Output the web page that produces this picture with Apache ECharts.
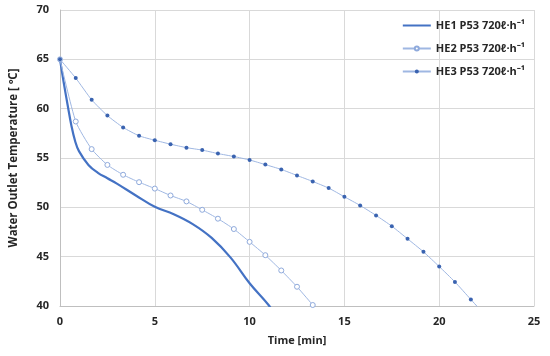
<!DOCTYPE html>
<html><head><meta charset="utf-8">
<script src="https://cdn.jsdelivr.net/npm/echarts@6/dist/echarts.min.js"></script>
<style>html,body{margin:0;padding:0;background:#fff}#c{width:550px;height:356px}</style>
</head><body><div id="c"></div>
<script>
const seriesNames = ['HE1 P53 720ℓ·h⁻¹', 'HE2 P53 720ℓ·h⁻¹', 'HE3 P53 720ℓ·h⁻¹'];
const he1Time = [0, 0.2, 0.4, 0.6, 0.8, 1.0, 1.5, 2.0, 2.5, 3.0, 4.0, 5.0, 6.0, 7.0, 8.0, 9.0, 10.0, 11.0, 11.3];
const he1Temp = [65, 62.6, 60.4, 58.3, 56.7, 55.7, 54.3, 53.5, 52.95, 52.4, 51.2, 50.05, 49.3, 48.3, 46.9, 44.9, 42.3, 40.1, 39.2];
const markTime = [0, 0.83, 1.67, 2.5, 3.33, 4.17, 5.0, 5.83, 6.67, 7.5, 8.33, 9.17, 10.0, 10.83, 11.67, 12.5, 13.33, 14.17, 15.0, 15.83, 16.67, 17.5, 18.33, 19.17, 20.0, 20.83, 21.67, 22.5];
const he2Temp = [65, 58.7, 55.9, 54.3, 53.3, 52.55, 51.9, 51.2, 50.6, 49.75, 48.85, 47.8, 46.5, 45.15, 43.6, 41.95, 40.1];
const he3Temp = [65, 63.1, 60.9, 59.3, 58.1, 57.25, 56.8, 56.4, 56.05, 55.8, 55.45, 55.15, 54.8, 54.33, 53.84, 53.23, 52.62, 51.95, 51.07, 50.19, 49.18, 48.09, 46.81, 45.49, 44.0, 42.44, 40.66, 38.9];
const xTicks = [0, 5, 10, 15, 20, 25];
const yTicks = [40, 45, 50, 55, 60, 65, 70];

const pair = (xs, ys) => ys.map((y, i) => [xs[i], y]);
const font = 'Open Sans';
const chart = echarts.init(document.getElementById('c'));
chart.setOption({
  animation: false,
  backgroundColor: '#fff',
  grid: { left: 58, right: 16, top: 10, bottom: 50, containLabel: false },
  legend: {
    orient: 'vertical', right: 20, top: 15, itemGap: 12, itemWidth: 28, itemHeight: 5,
    textStyle: { fontFamily: font, fontWeight: 'bold', fontSize: 11, color: '#262626' },
    data: [
      { name: seriesNames[0], itemStyle: { opacity: 0 } },
      seriesNames[1],
      seriesNames[2]
    ]
  },
  xAxis: {
    type: 'value', min: xTicks[0], max: xTicks[xTicks.length - 1], interval: 5,
    name: 'Time [min]', nameLocation: 'middle', nameGap: 29,
    nameTextStyle: { fontFamily: font, fontWeight: 'bold', fontSize: 11, color: '#262626' },
    axisLine: { lineStyle: { color: '#bfbfbf' } },
    axisTick: { show: false },
    axisLabel: { fontFamily: font, fontWeight: 'bold', fontSize: 11, color: '#262626', margin: 10 },
    splitLine: { lineStyle: { color: '#d9d9d9' } }
  },
  yAxis: {
    type: 'value', min: yTicks[0], max: yTicks[yTicks.length - 1], interval: 5,
    name: 'Water Outlet Temperature [ ºC]', nameLocation: 'middle', nameGap: 40,
    nameTextStyle: { fontFamily: font, fontWeight: 'bold', fontSize: 11.5, color: '#262626' },
    axisLine: { show: true, lineStyle: { color: '#bfbfbf' } },
    axisTick: { show: false },
    axisLabel: { fontFamily: font, fontWeight: 'bold', fontSize: 11, color: '#262626', margin: 11 },
    splitLine: { lineStyle: { color: '#d9d9d9' } }
  },
  series: [
    {
      name: seriesNames[0], type: 'line', clip: true, smooth: 0.4, showSymbol: false, symbol: 'none',
      data: pair(he1Time, he1Temp),
      lineStyle: { color: '#4472C4', width: 2.2 }, itemStyle: { color: '#4472C4' }
    },
    {
      name: seriesNames[1], type: 'line', clip: true, smooth: 0.2, symbol: 'circle', symbolSize: 5,
      data: pair(markTime, he2Temp),
      lineStyle: { color: '#9fb7e2', width: 1 },
      itemStyle: { color: '#ffffff', borderColor: '#8faadc', borderWidth: 1 }
    },
    {
      name: seriesNames[2], type: 'line', clip: true, smooth: 0.2, symbol: 'circle', symbolSize: 4,
      data: pair(markTime, he3Temp),
      lineStyle: { color: '#9fb7e2', width: 1 },
      itemStyle: { color: '#3a63b0', borderColor: '#3a63b0', borderWidth: 0 }
    }
  ]
});
</script></body></html>
